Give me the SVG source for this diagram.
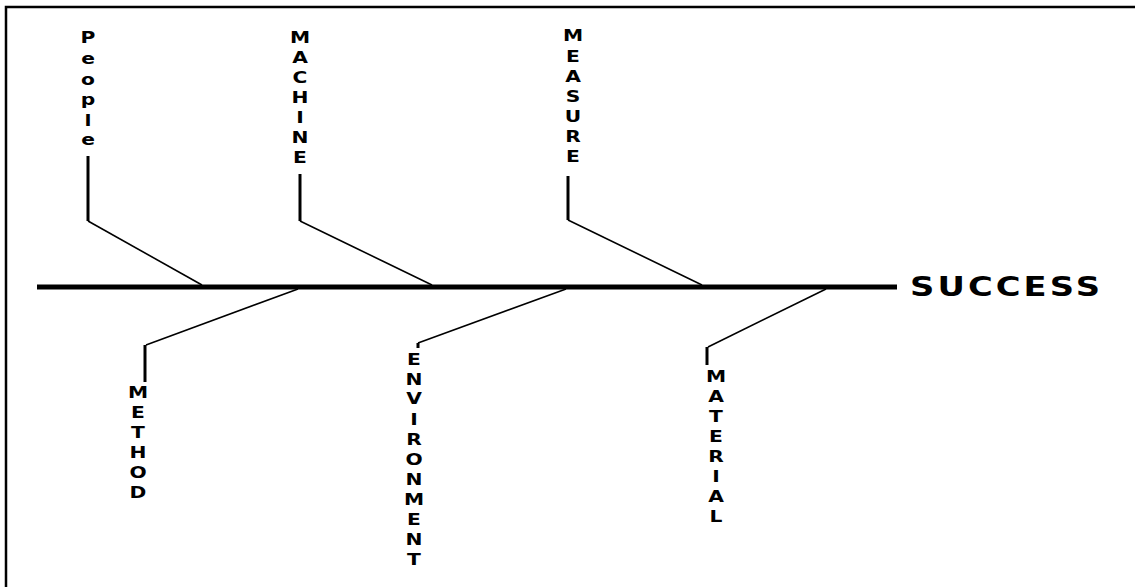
<svg xmlns="http://www.w3.org/2000/svg" width="1135" height="587" viewBox="0 0 1135 587">
  <style>
    .frame { stroke: #000; stroke-width: 2.5; fill: none; }
    .spine { stroke: #000; stroke-width: 5; fill: none; }
    .bone { stroke: #000; stroke-width: 1.6; fill: none; }
    .stem { stroke: #000; stroke-width: 3; fill: none; }
    .lbl { font-family: "DejaVu Sans", sans-serif; font-weight: bold; font-size: 15px; fill: #000; text-anchor: middle; }
    .effect { font-family: "DejaVu Sans", sans-serif; font-weight: bold; font-size: 27px; fill: #000; }
  </style>
  <rect width="1135" height="587" fill="#fff"/>
  <!-- open frame: top and left edges only -->
  <path class="frame" d="M6,587 V7 H1135"/>

  <g id="connectors">
    <!-- main spine -->
    <line class="spine" x1="37" y1="287" x2="897" y2="287"/>
    <!-- upper bones -->
    <path class="stem" d="M88,156 V221"/>
    <path class="bone" d="M88,221 L202,285"/>
    <path class="stem" d="M300,174 V221"/>
    <path class="bone" d="M300,221 L432,285"/>
    <path class="stem" d="M568,176 V220"/>
    <path class="bone" d="M568,220 L702,285"/>
    <!-- lower bones -->
    <path class="bone" d="M298,289 L146,345"/>
    <path class="stem" d="M145,345 V382"/>
    <path class="bone" d="M566,289 L418,343"/>
    <path class="stem" d="M418,343 V348"/>
    <path class="bone" d="M826,289 L708,347"/>
    <path class="stem" d="M707,347 V365"/>
  </g>

  <!-- vertical labels: letters stacked, widened to a broad bold face -->
  <g id="people" transform="translate(88,0) scale(1.35,1)">
    <text class="lbl"><tspan x="0" y="43">P</tspan><tspan x="0" y="64">e</tspan><tspan x="0" y="85">o</tspan><tspan x="0" y="105">p</tspan><tspan x="0" y="126">l</tspan><tspan x="0" y="145">e</tspan></text>
  </g>
  <g id="machine" transform="translate(300,0) scale(1.35,1)">
    <text class="lbl"><tspan x="0" y="43">M</tspan><tspan x="0" y="63">A</tspan><tspan x="0" y="83">C</tspan><tspan x="0" y="103">H</tspan><tspan x="0" y="123">I</tspan><tspan x="0" y="143">N</tspan><tspan x="0" y="163">E</tspan></text>
  </g>
  <g id="measure" transform="translate(573,0) scale(1.35,1)">
    <text class="lbl"><tspan x="0" y="41">M</tspan><tspan x="0" y="62">E</tspan><tspan x="0" y="82">A</tspan><tspan x="0" y="102">S</tspan><tspan x="0" y="122">U</tspan><tspan x="0" y="142">R</tspan><tspan x="0" y="162">E</tspan></text>
  </g>
  <g id="method" transform="translate(138,0) scale(1.35,1)">
    <text class="lbl"><tspan x="0" y="398">M</tspan><tspan x="0" y="418">E</tspan><tspan x="0" y="438">T</tspan><tspan x="0" y="458">H</tspan><tspan x="0" y="478">O</tspan><tspan x="0" y="498">D</tspan></text>
  </g>
  <g id="environment" transform="translate(414,0) scale(1.35,1)">
    <text class="lbl"><tspan x="0" y="365">E</tspan><tspan x="0" y="385">N</tspan><tspan x="0" y="404">V</tspan><tspan x="0" y="425">I</tspan><tspan x="0" y="445">R</tspan><tspan x="0" y="465">O</tspan><tspan x="0" y="485">N</tspan><tspan x="0" y="505">M</tspan><tspan x="0" y="525">E</tspan><tspan x="0" y="545">N</tspan><tspan x="0" y="565">T</tspan></text>
  </g>
  <g id="material" transform="translate(716,0) scale(1.35,1)">
    <text class="lbl"><tspan x="0" y="382">M</tspan><tspan x="0" y="402">A</tspan><tspan x="0" y="422">T</tspan><tspan x="0" y="442">E</tspan><tspan x="0" y="462">R</tspan><tspan x="0" y="482">I</tspan><tspan x="0" y="502">A</tspan><tspan x="0" y="522">L</tspan></text>
  </g>
  <g id="success" transform="translate(910,296) scale(1.25,1)">
    <text class="effect" x="0" y="0" textLength="152" lengthAdjust="spacing">SUCCESS</text>
  </g>
</svg>
